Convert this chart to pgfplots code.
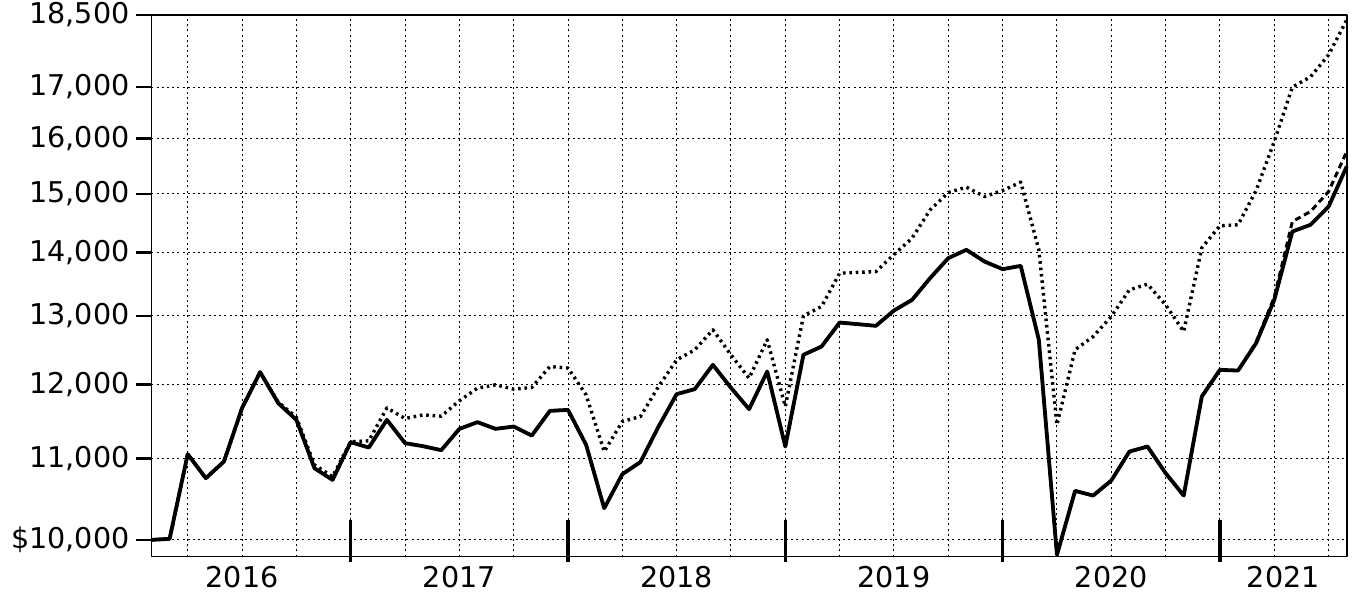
\documentclass[border=0pt]{standalone}
\usepackage{fontspec}
\setmainfont{DejaVu Sans}
\usepackage{pgfplots}
\usepackage{pgfplotstable}
\pgfplotsset{compat=1.18}

% month index (1 = end of Jan 2016), fund, index A (dotted), index B (dashed)
\pgfplotstableread{
m  fund   dotted  dashed
1  10000  10000   10000
2  10012  10012   10012
3  11056  11056   11056
4  10750  10750   10750
5  10961  10961   10961
6  11669  11669   11669
7  12172  12172   12172
8  11737  11750   11737
9  11510  11545   11510
10 10876  10919   10876
11 10728  10770   10728
12 11213  11220   11213
13 11142  11230   11142
14 11510  11672   11510
15 11200  11528   11200
16 11160  11577   11160
17 11108  11560   11108
18 11388  11770   11388
19 11479  11946   11479
20 11389  11992   11389
21 11420  11932   11420
22 11300  11955   11300
23 11632  12252   11632
24 11645  12229   11645
25 11178  11852   11178
26 10378  11090   10378
27 10800  11487   10800
28 10955  11555   10955
29 11420  11968   11420
30 11862  12348   11862
31 11932  12494   11932
32 12276  12790   12276
33 11950  12420   11950
34 11655  12086   11655
35 12180  12641   12180
36 11156  11691   11156
37 12421  13002   12421
38 12542  13144   12542
39 12900  13668   12900
40 12875  13680   12875
41 12850  13694   12850
42 13083  13970   13083
43 13247  14241   13247
44 13590  14721   13590
45 13911  15023   13911
46 14047  15118   14047
47 13856  14952   13856
48 13733  15058   13733
49 13786  15207   13786
50 12641  14047   12641
51 9826   11443   9826
52 10591  12494   10591
53 10533  12690   10533
54 10720  12991   10720
55 11090  13404   11090
56 11156  13493   11156
57 10813  13170   10813
58 10533  12765   10533
59 11829  14080   11829
60 12204  14449   12204
61 12194  14465   12194
62 12592  15060   12610
63 13247  15950   13290
64 14352  17000   14520
65 14465  17203   14692
66 14778  17653   15040
67 15487  18391   15762
}\growth

\begin{document}
\begin{tikzpicture}
\begin{axis}[
    scale only axis,
    width=597.6pt, height=270.85pt,
    xmin=1, xmax=67,
    ymode=log, ymin=9806, ymax=18500,
    clip=false,
    axis line style={line width=0.8pt},
    ytick={10000,11000,12000,13000,14000,15000,16000,17000,18500},
    yticklabels={{\$10,000},{11,000},{12,000},{13,000},{14,000},{15,000},{16,000},{17,000},{18,500}},
    ytick align=outside,
    ytick pos=left,
    major tick length=7.5pt,
    minor tick length=0pt,
    ytick style={line width=1.3pt, black},
    xtick={6,18,30,42,54,63.5},
    xticklabels={2016,2017,2018,2019,2020,2021},
    xtick style={draw=none},
    xticklabel style={yshift=-1.5pt},
    minor xtick={3,6,...,66},
    xmajorgrids=false, xminorgrids=true, ymajorgrids=true,
    grid style={black, line width=0.5pt, dash pattern=on 1pt off 1.6pt},
    minor grid style={black, line width=0.5pt, dash pattern=on 1pt off 1.6pt},
    tick label style={font=\fontsize{14.3}{17}\selectfont},
    line join=round,
]
\addplot[black, line width=1.7pt, dash pattern=on 1.3pt off 1.9pt] table[x=m, y=dotted] {\growth};
\addplot[black, line width=1.9pt] table[x=m, y=fund] {\growth};
\addplot[black, line width=1.5pt, dash pattern=on 3pt off 2pt] table[x=m, y=dashed] {\growth};
\draw[line width=1.8pt] (axis cs:12,9806) ++(0pt,-2.5pt) -- +(0pt,21pt);
\draw[line width=1.8pt] (axis cs:24,9806) ++(0pt,-2.5pt) -- +(0pt,21pt);
\draw[line width=1.8pt] (axis cs:36,9806) ++(0pt,-2.5pt) -- +(0pt,21pt);
\draw[line width=1.8pt] (axis cs:48,9806) ++(0pt,-2.5pt) -- +(0pt,21pt);
\draw[line width=1.8pt] (axis cs:60,9806) ++(0pt,-2.5pt) -- +(0pt,21pt);
\end{axis}
\pgfresetboundingbox
\useasboundingbox (-75.75pt,-26.65pt) rectangle (605.75pt,278.35pt);
\end{tikzpicture}
\end{document}
